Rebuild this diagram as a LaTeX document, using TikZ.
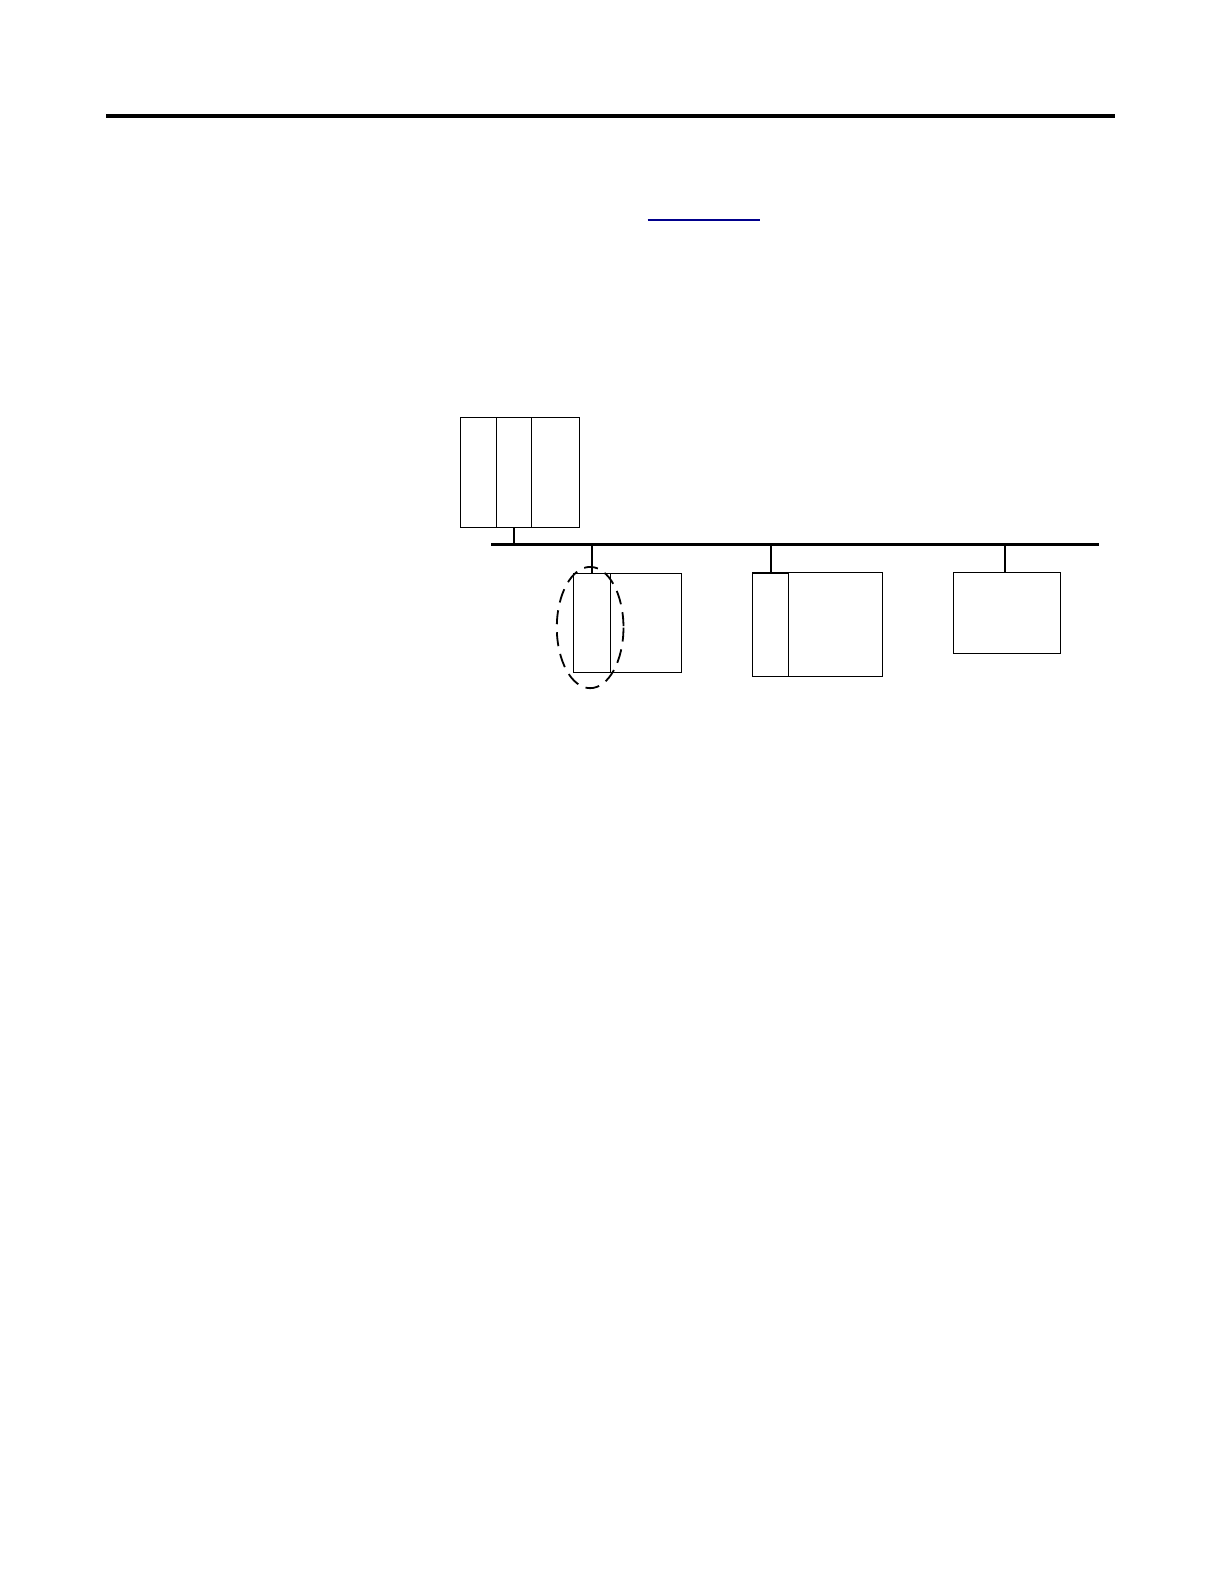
\documentclass[tikz,border=0pt]{standalone}
\begin{document}
\begin{tikzpicture}[x=1pt,y=-1pt,
  box/.style={draw=black,line width=1pt},
  bus/.style={draw=black,line width=2.4pt},
  drop/.style={draw=black,line width=2pt}]
\useasboundingbox[fill=white] (0,0) rectangle (1224,1584);
\begin{scope}[x=1.0105pt,y=-1.0105pt]
% header rule
\draw[line width=4pt] (105,115) -- (1103,115);
% blue link underline
\draw[line width=1.6pt,color={rgb,255:red,0;green,0;blue,140}] (641,218) -- (752,218);
% rack
\draw[box] (456,413) rectangle (573,522);
\draw[box] (491,413) -- (491,522);
\draw[box] (526,413) -- (526,522);
\coordinate (rackb) at (509,522);
% bus
\coordinate (busl) at (486,539);
\coordinate (busr) at (1088,539);
\draw[bus] (busl) -- (busr);
\coordinate (r1) at (509,539);
\draw[drop] (rackb) -- (r1);
% box 1
\draw[box] (568,568) rectangle (674,666);
\draw[box] (604,568) -- (604,666);
\coordinate (b1t) at (586,568);
\coordinate (d1) at (586,539);
\draw[drop] (d1) -- (b1t);
% box 2
\draw[box] (745,567) rectangle (873,669);
\draw[box] (780,567) -- (780,669);
\coordinate (b2t) at (763,567);
\coordinate (d2) at (763,539);
\draw[drop] (d2) -- (b2t);
\draw[drop] (745,567) -- (780,567);
% box 3
\draw[box] (944,567) rectangle (1049,647);
\coordinate (b3t) at (995,567);
\coordinate (d3) at (995,539);
\draw[drop] (d3) -- (b3t);
% dashed ellipse
\draw[line width=1.8pt,dash pattern=on 14pt off 8pt] (584,621) ellipse [x radius=33, y radius=60];
\end{scope}
\end{tikzpicture}
\end{document}
